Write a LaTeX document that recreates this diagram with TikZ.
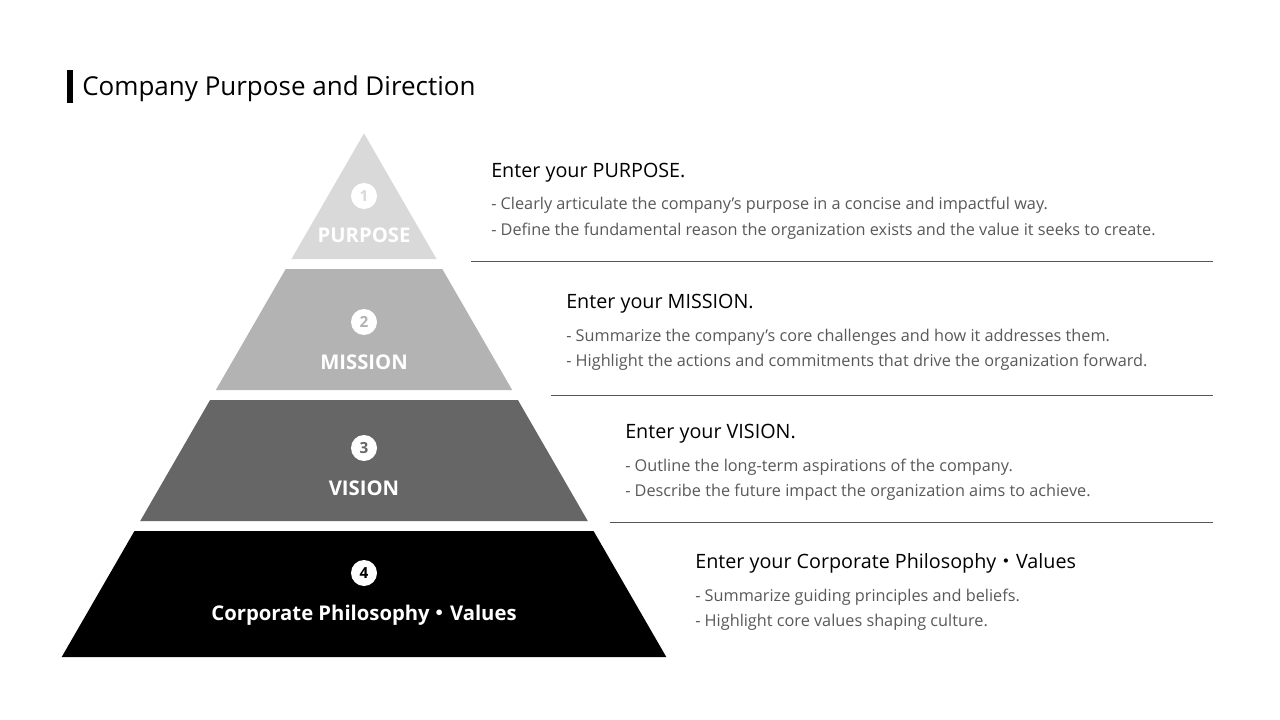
\documentclass[tikz,border=0pt]{standalone}
\usepackage{fontspec}
\setmainfont{Open Sans}
\newfontfamily\cjk{Noto Sans CJK JP}
\definecolor{tierA}{HTML}{D9D9D9}
\definecolor{tierB}{HTML}{B3B3B3}
\definecolor{tierC}{HTML}{666666}
\definecolor{tierD}{HTML}{000000}
\definecolor{bodygray}{HTML}{595959}
\definecolor{rulegray}{HTML}{555555}
\tikzset{
  heading/.style={anchor=base west, inner sep=0pt, text=black, font=\fontsize{14.8}{17}\selectfont},
  bullet/.style={anchor=base west, inner sep=0pt, text=bodygray, font=\fontsize{12.2}{14}\selectfont},
  tierlabel/.style={anchor=base, inner sep=0pt, text=white, font=\fontsize{15.2}{18}\selectfont\bfseries},
  numdot/.style={circle, fill=white, minimum size=19.5pt, inner sep=0pt, font=\fontsize{11.5}{13}\selectfont\bfseries},
  divider/.style={draw=rulegray, line width=0.75pt},
}
\begin{document}
\begin{tikzpicture}[x=0.75pt, y=-0.75pt]
\useasboundingbox[fill=white] (0,0) rectangle (1280,720);

% titre
\fill (67,70) rectangle (73,103);
\node[anchor=base west, inner sep=0pt, font=\fontsize{19.5}{23}\selectfont] (title) at (82,96) {Company Purpose and Direction};

% pyramide : demi-largeur = (y - 133.4) * tan(30)
\foreach \top/\bot/\col in {133.4/259/tierA, 269/390/tierB, 400/521/tierC, 531/657/tierD} {
  \pgfmathsetmacro\wt{(\top-133.4)*0.57735}
  \pgfmathsetmacro\wb{(\bot-133.4)*0.57735}
  \fill[\col] (364-\wt,\top) -- (364+\wt,\top) -- (364+\wb,\bot) -- (364-\wb,\bot) -- cycle;
}

\node[numdot, text=tierA] (n1) at (364,196) {1};
\node[numdot, text=tierB] (n2) at (364,322) {2};
\node[numdot, text=tierC] (n3) at (364,448) {3};
\node[numdot, text=tierD] (n4) at (364,573) {4};

\node[tierlabel] (purpose) at (364,243) {PURPOSE};
\node[tierlabel] (mission) at (364,369) {MISSION};
\node[tierlabel] (vision) at (364,495) {VISION};
\node[tierlabel] (values) at (364,620) {Corporate Philosophy{\cjk ・}Values};

% textes
\node[heading] (h1) at (491,178) {Enter your PURPOSE.};
\node[bullet] (b11) at (491,210) {- Clearly articulate the company’s purpose in a concise and impactful way.};
\node[bullet] (b12) at (491,235) {- Define the fundamental reason the organization exists and the value it seeks to create.};

\node[heading] (h2) at (566,308) {Enter your MISSION.};
\node[bullet] (b21) at (566,341) {- Summarize the company’s core challenges and how it addresses them.};
\node[bullet] (b22) at (566,366) {- Highlight the actions and commitments that drive the organization forward.};

\node[heading] (h3) at (625,438) {Enter your VISION.};
\node[bullet] (b31) at (625,471) {- Outline the long-term aspirations of the company.};
\node[bullet] (b32) at (625,496) {- Describe the future impact the organization aims to achieve.};

\node[heading] (h4) at (695,568) {Enter your Corporate Philosophy{\cjk ・}Values};
\node[bullet] (b41) at (695,601) {- Summarize guiding principles and beliefs.};
\node[bullet] (b42) at (695,626) {- Highlight core values shaping culture.};

% séparateurs
\coordinate (r1a) at (471,261); \coordinate (r1b) at (1213,261);
\coordinate (r2a) at (551,395); \coordinate (r2b) at (1213,395);
\coordinate (r3a) at (610,522); \coordinate (r3b) at (1213,522);
\draw[divider] (r1a) -- (r1b);
\draw[divider] (r2a) -- (r2b);
\draw[divider] (r3a) -- (r3b);
\end{tikzpicture}
\end{document}
